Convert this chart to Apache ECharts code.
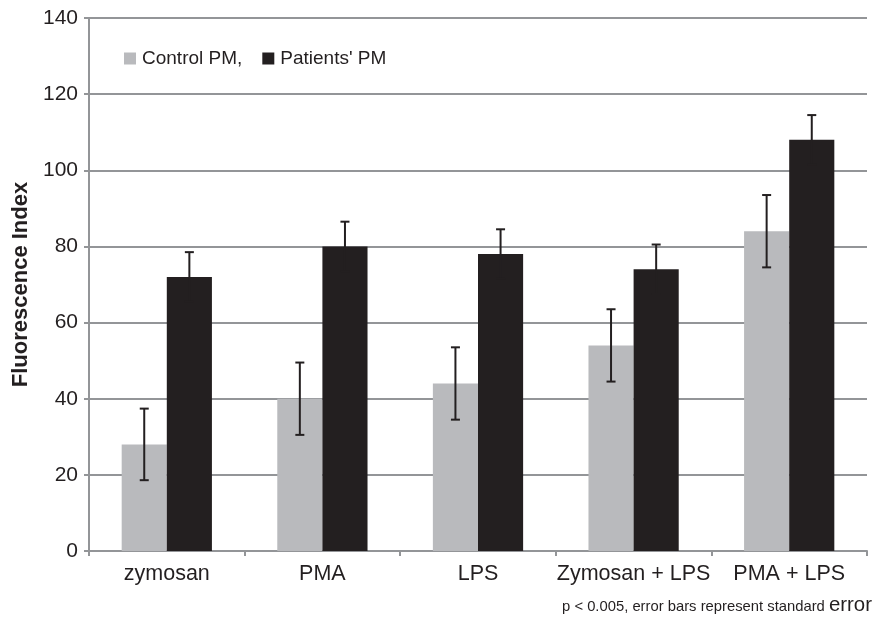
<!DOCTYPE html>
<html><head><meta charset="utf-8">
<script src="https://cdn.jsdelivr.net/npm/echarts@6/dist/echarts.min.js"></script>
<style>html,body{margin:0;padding:0;background:#fff}#c{width:873px;height:619px}</style>
</head><body><div id="c"></div>
<script>
const categories = ['zymosan', 'PMA', 'LPS', 'Zymosan + LPS', 'PMA + LPS'];
const controlValues = [28, 40, 44, 54, 84];
const controlErrors = [9.4, 9.5, 9.5, 9.5, 9.5];
const patientValues = [72, 80, 78, 74, 108];
const patientErrors = [6.5, 6.5, 6.5, 6.5, 6.5];
const yTicks = [0, 20, 40, 60, 80, 100, 120, 140];

const GAP = 0.42;
const FONT = 'Liberation Sans, Arial, Helvetica, sans-serif';
const INK = '#231f20';
const chart = echarts.init(document.getElementById('c'));

function errItem(values, errors, side) {
  return function (params, api) {
    const i = api.value(0);
    const v = values[i], e = errors[i];
    const band = api.size([1, 0])[0];
    const bw = band * (1 - GAP) / 2;
    const c = api.coord([i, v]);
    const x = c[0] + side * bw / 2;
    const yHi = api.coord([i, v + e])[1];
    const yLo = api.coord([i, v - e])[1];
    const cap = 4.5;
    const st = { stroke: INK, lineWidth: 2 };
    return { type: 'group', children: [
      { type: 'line', shape: { x1: x, y1: yHi, x2: x, y2: yLo }, style: st },
      { type: 'line', shape: { x1: x - cap, y1: yHi, x2: x + cap, y2: yHi }, style: st },
      { type: 'line', shape: { x1: x - cap, y1: yLo, x2: x + cap, y2: yLo }, style: st }
    ]};
  };
}

chart.setOption({
  animation: false,
  textStyle: { fontFamily: FONT },
  grid: { left: 89, right: 6, top: 18, bottom: 68 },
  legend: {
    left: 119, top: 44, itemWidth: 12, itemHeight: 12, itemGap: 20,
    icon: 'rect',
    textStyle: { fontSize: 19, color: INK, fontFamily: FONT, padding: [0, 0, 0, 1] },
    data: ['Control PM,', "Patients' PM"]
  },
  xAxis: {
    type: 'category', data: categories,
    axisLine: { lineStyle: { color: '#939598', width: 2 } },
    axisTick: { show: true, interval: 0, length: 5, lineStyle: { color: '#939598', width: 2 } },
    axisLabel: { interval: 0, fontSize: 21.5, color: INK, margin: 12 }
  },
  yAxis: {
    type: 'value', min: yTicks[0], max: yTicks[yTicks.length - 1], interval: 20,
    name: 'Fluorescence Index', nameLocation: 'middle', nameGap: 57, nameRotate: 90,
    nameTextStyle: { fontSize: 22, fontWeight: 'bold', color: INK },
    axisLine: { show: true, lineStyle: { color: '#939598', width: 2 } },
    axisTick: { show: true, length: 5, lineStyle: { color: '#939598', width: 2 } },
    axisLabel: { fontSize: 21, color: INK, margin: 11 },
    splitLine: { lineStyle: { color: '#939598', width: 2 } }
  },
  graphic: [{
    type: 'text', right: 1, top: 595,
    style: {
      text: '{s|p < 0.005, error bars represent standard }{b|error}',
      rich: {
        s: { fontSize: 14.8, fill: INK, fontFamily: FONT, verticalAlign: 'bottom', padding: [0, 0, 1, 0] },
        b: { fontSize: 20.4, fill: INK, fontFamily: FONT, verticalAlign: 'bottom' }
      }
    }
  }],
  series: [
    { name: 'Control PM,', type: 'bar', data: controlValues, barGap: '0%', barCategoryGap: '42%',
      itemStyle: { color: '#b9babd' } },
    { name: "Patients' PM", type: 'bar', data: patientValues, barGap: '0%', barCategoryGap: '42%',
      itemStyle: { color: INK } },
    { type: 'custom', data: categories.map((c, i) => [i]), renderItem: errItem(controlValues, controlErrors, -1), z: 10 },
    { type: 'custom', data: categories.map((c, i) => [i]), renderItem: errItem(patientValues, patientErrors, 1), z: 10 }
  ]
});
</script></body></html>
